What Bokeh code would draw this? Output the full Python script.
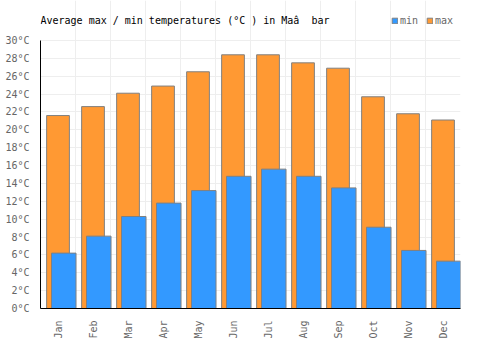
from bokeh.plotting import figure
from bokeh.models import FactorRange, Range1d, FixedTicker, PrintfTickFormatter, Grid, Legend, LegendItem, ColumnDataSource, Label
from bokeh.transform import dodge
from bokeh.embed import file_html
from bokeh.resources import INLINE
import math

months = ["Jan", "Feb", "Mar", "Apr", "May", "Jun", "Jul", "Aug", "Sep", "Oct", "Nov", "Dec"]
t_max = [21.6, 22.6, 24.1, 24.9, 26.5, 28.4, 28.4, 27.5, 26.9, 23.7, 21.8, 21.1]
t_min = [6.2, 8.1, 10.3, 11.8, 13.2, 14.8, 15.6, 14.8, 13.5, 9.1, 6.5, 5.3]
y_ticks = list(range(0, 31, 2))
title_text = "Average max / min temperatures (°C ) in Maâ\u00a0 bar"

FONT = "DejaVu Sans Mono"
src = ColumnDataSource(dict(month=months, tmax=t_max, tmin=t_min))

# frame spans canvas y 0..308; 0..30 degC occupies the lower 268 px
y_top = 30 * 308 / 268

p = figure(width=500, height=350, x_range=FactorRange(*months, range_padding=0),
           y_range=Range1d(0, y_top), output_backend="svg", toolbar_location=None,
           min_border_left=40, min_border_right=40, min_border_top=0, min_border_bottom=42)

r_max = p.vbar(x="month", top="tmax", bottom=0, width=0.65, source=src,
               fill_color="#ff9933", line_color="#808080", line_width=1)
r_min = p.vbar(x=dodge("month", 0.165, range=p.x_range), top="tmin", bottom=0, width=0.7,
               source=src, fill_color="#3399ff", line_color="#808080", line_width=1)

p.xgrid.visible = False
p.ygrid.grid_line_color = "#eeeeee"
p.ygrid.ticker = FixedTicker(ticks=y_ticks)
vgrid = Grid(dimension=0, ticker=FixedTicker(ticks=list(range(13))), grid_line_color="#eeeeee",
             bounds=(0, 30))
p.add_layout(vgrid)

p.yaxis.ticker = FixedTicker(ticks=y_ticks)
p.yaxis.formatter = PrintfTickFormatter(format="%d°C")
p.yaxis.bounds = (0, 30)
for ax in (p.xaxis[0], p.yaxis[0]):
    ax.major_tick_line_color = None
    ax.minor_tick_line_color = None
    ax.axis_line_color = "#000000"
    ax.major_label_text_font = FONT
    ax.major_label_text_font_size = "10px"
    ax.major_label_text_color = "#666666"
p.xaxis.major_label_orientation = math.pi / 2
p.xaxis.major_label_standoff = 6
p.yaxis.major_label_standoff = 5
p.outline_line_color = None

title = Label(x=0, y=288, x_units="screen", y_units="screen", text=title_text,
              text_font=FONT, text_font_size="10px", text_color="#000000",
              text_baseline="middle", text_align="left")
p.add_layout(title)

legend = Legend(items=[LegendItem(label="min", renderers=[r_min]),
                       LegendItem(label="max", renderers=[r_max])],
                orientation="horizontal", location=(351, 282),
                glyph_width=7, glyph_height=7, label_text_font=FONT,
                label_text_font_size="10px", label_text_color="#666666",
                label_standoff=2, spacing=6, padding=0, margin=0,
                border_line_color=None, background_fill_alpha=0, label_height=10)
p.add_layout(legend)

open("out.html", "w").write(file_html(p, INLINE))
